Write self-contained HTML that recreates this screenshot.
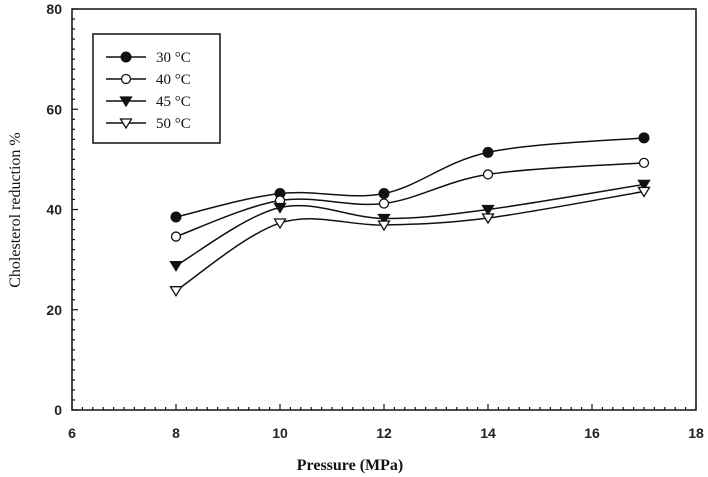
<!DOCTYPE html>
<html><head><meta charset="utf-8"><style>
html,body{margin:0;padding:0;background:#fff;}
svg{display:block;font-family:"Liberation Serif",serif;}
.tk{font-family:"Liberation Sans",sans-serif;font-weight:bold;font-size:14px;fill:#222;}
</style></head><body>
<svg id="chart" width="708" height="477" viewBox="0 0 708 477">
<g id="axes"></g><g id="series"></g>
<g>
<rect x="93" y="34" width="127" height="109" fill="#fff" stroke="#111" stroke-width="1.5"/>
<g id="legend"></g>
</g>
<text x="350" y="470" text-anchor="middle" font-size="16" font-weight="bold" fill="#111">Pressure (MPa)</text>
<text transform="translate(20,210) rotate(-90)" text-anchor="middle" font-size="16" fill="#111">Cholesterol reduction %</text>
</svg>
<script>
const pressures=[8,10,12,14,17];
const labels=["30 °C","40 °C","45 °C","50 °C"];
const s30=[38.5,43.2,43.2,51.4,54.3];
const s40=[34.6,41.8,41.2,47,49.3];
const s45=[28.8,40.4,38.2,40,45];
const s50=[23.8,37.3,36.9,38.3,43.6];
const xTicks=[6,8,10,12,14,16,18];
const yTicks=[0,20,40,60,80];
const NS="http://www.w3.org/2000/svg";
const X0=72,X1=696,Y0=410,Y1=9;
const sx=v=>X0+(v-6)/(18-6)*(X1-X0);
const sy=v=>Y0-(v-0)/(80-0)*(Y0-Y1);
function mk(t,a,p){const e=document.createElementNS(NS,t);for(const k in a)e.setAttribute(k,a[k]);p.appendChild(e);return e;}
const ax=document.getElementById('axes');
let f=mk('rect',{x:X0,y:Y1,width:X1-X0,height:Y0-Y1,fill:'none',stroke:'#111','stroke-width':1.5},ax);


for(let v=6;v<=18.001;v+=0.2){const x=sx(v);const major=Math.abs(v-Math.round(v))<1e-6&&Math.round(v)%2===0;
 mk('line',{x1:x,x2:x,y1:Y0,y2:Y0-(major?6:3),stroke:'#111','stroke-width':1.2},ax);}
for(let v=0;v<=80;v+=2){const y=sy(v);const major=v%20===0;
 mk('line',{x1:X0,x2:X0+(major?6:3),y1:y,y2:y,stroke:'#111','stroke-width':1.2},ax);}
xTicks.forEach(v=>{const t=mk('text',{x:sx(v),y:Y0+28,'text-anchor':'middle',class:'tk'},ax);t.textContent=v;
 
 });
yTicks.forEach(v=>{const t=mk('text',{x:X0-10,y:sy(v)+5,'text-anchor':'end',class:'tk'},ax);t.textContent=v;
 
 });
function path(pts){let d=`M${pts[0][0]},${pts[0][1]}`;for(let i=0;i<pts.length-1;i++){const p0=pts[i-1]||pts[i],p1=pts[i],p2=pts[i+1],p3=pts[i+2]||p2;
 d+=` C${p1[0]+(p2[0]-p0[0])/6},${p1[1]+(p2[1]-p0[1])/6} ${p2[0]-(p3[0]-p1[0])/6},${p2[1]-(p3[1]-p1[1])/6} ${p2[0]},${p2[1]}`;}return d;}
function marker(kind,x,y,g){
 if(kind===0)return mk('circle',{cx:x,cy:y,r:5,fill:'#111',stroke:'#111'},g);
 if(kind===1)return mk('circle',{cx:x,cy:y,r:4.5,fill:'#fff',stroke:'#111','stroke-width':1.3},g);
 const pts=`${x-5.5},${y-4} ${x+5.5},${y-4} ${x},${y+5}`;
 return mk('polygon',{points:pts,fill:kind===2?'#111':'#fff',stroke:'#111','stroke-width':1.3},g);}
const all=[s30,s40,s45,s50];const names=['series-30c','series-40c','series-45c','series-50c'];
const sg=document.getElementById('series');
all.forEach((s,k)=>{const g=mk('g',{},sg);
 
 
 const pts=pressures.map((p,i)=>[sx(p),sy(s[i])]);
 mk('path',{d:path(pts),fill:'none',stroke:'#111','stroke-width':1.5},g);
 pts.forEach(p=>{const m=marker(k,p[0],p[1],g);
  
  });});
const lg=document.getElementById('legend');
labels.forEach((l,k)=>{const y=57+k*22;const g=mk('g',{},lg);
 
 
 mk('line',{x1:106,x2:146,y1:y,y2:y,stroke:'#111','stroke-width':1.5},g);
 marker(k,126,y,g);
 const t=mk('text',{x:156,y:y+5,'font-size':15,fill:'#111'},g);t.textContent=l;});
</script>
</body></html>
